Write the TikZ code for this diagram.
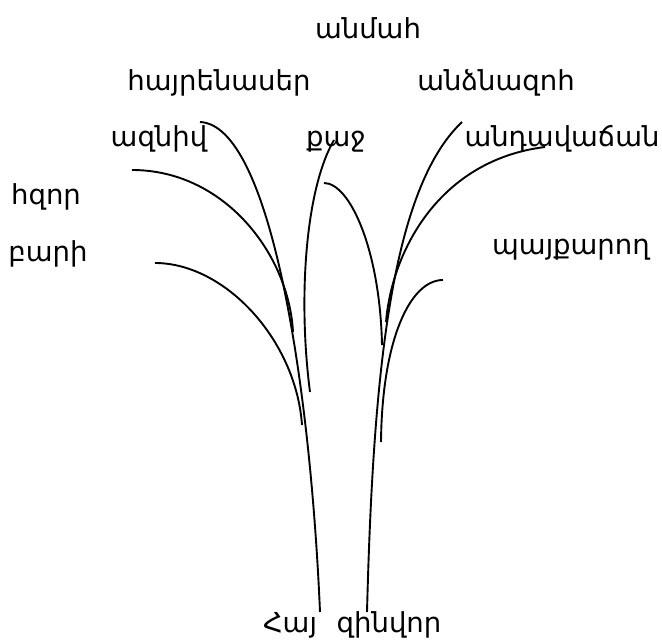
\documentclass[tikz,border=0pt]{standalone}
\usepackage{fontspec}
\setmainfont{DejaVu Sans}
\begin{document}
\begin{tikzpicture}[x=1bp,y=-1bp,
  word/.style={inner sep=0pt,anchor=base,font=\fontsize{27.5bp}{32bp}\selectfont},
  branch/.style={line width=1.9bp,black}]
\useasboundingbox (0,0) rectangle (662,644);
% labels
\node[word] (anmah) at (368,39) {անմահ};
\node[word] (hayrenaser) at (219,91) {հայրենասեր};
\node[word] (anjnazoh) at (496,91) {անձնազոհ};
\node[word] (azniv) at (159,147) {ազնիվ};
\node[word] (qaj) at (336,147) {քաջ};
\node[word] (andavachan) at (562,147) {անդավաճան};
\node[word] (hzor) at (46,204) {հզոր};
\node[word] (bari) at (48,261) {բարի};
\node[word] (payqarogh) at (571,254) {պայքարող};
\node[word] (hay) at (290,632) {Հայ};
\node[word] (zinvor) at (389,632) {զինվոր};
% end points
\coordinate (hayfoot) at (320,612);
\coordinate (zinfoot) at (367,612);
\coordinate (hayrtip) at (200,122);
\coordinate (hzortip) at (132,170);
\coordinate (hzorbase) at (293,332);
\coordinate (baritip) at (155,263);
\coordinate (baribase) at (302,425);
\coordinate (qajLtip) at (334,140);
\coordinate (qajLbase) at (310,392);
\coordinate (qajRtip) at (324,183);
\coordinate (qajRbase) at (382,345);
\coordinate (anjtip) at (462,122);
\coordinate (andtip) at (545,147);
\coordinate (andbase) at (386,322);
\coordinate (paytip) at (443,280);
\coordinate (paybase) at (381,442);
% left side
\draw[branch] (hayfoot) .. controls (310,380) and (270,125) .. (hayrtip);
\draw[branch] (hzorbase) .. controls (289,255) and (225,170) .. (hzortip);
\draw[branch] (baribase) .. controls (296,340) and (225,263) .. (baritip);
\draw[branch] (qajLbase) .. controls (298,300) and (305,190) .. (qajLtip);
% right side
\draw[branch] (zinfoot) .. controls (373,380) and (390,190) .. (anjtip);
\draw[branch] (qajRbase) .. controls (380,250) and (350,183) .. (qajRtip);
\draw[branch] (andbase) .. controls (392,250) and (440,160) .. (andtip);
\draw[branch] (paybase) .. controls (382,340) and (410,280) .. (paytip);
\end{tikzpicture}
\end{document}
